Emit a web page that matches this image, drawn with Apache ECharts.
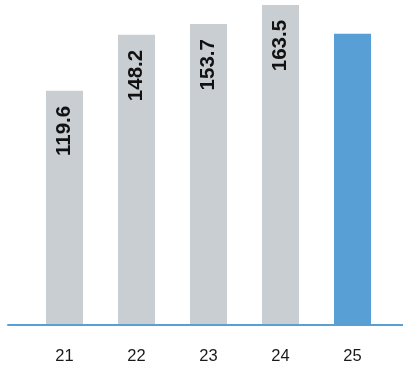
<!DOCTYPE html>
<html>
<head>
<meta charset="utf-8">
<script src="https://cdn.jsdelivr.net/npm/echarts@6/dist/echarts.min.js"></script>
<style>
  html, body { margin: 0; padding: 0; background: #fff; }
  #chart { width: 403px; height: 366px; }
</style>
</head>
<body>
<div id="chart"></div>
<script>
// Yearly totals; the latest year is highlighted and left unlabelled
const categories = ['21', '22', '23', '24', '25'];
const values = [119.6, 148.2, 153.7, 163.5, 148.7];
const labelled = [true, true, true, true, false];

const GREY = '#c9ced2';
const BLUE = '#579fd5';

const barData = values.map((v, i) => ({
  value: v,
  itemStyle: { color: i === values.length - 1 ? BLUE : GREY },
  label: { show: labelled[i] }
}));

const chart = echarts.init(document.getElementById('chart'));
chart.setOption({
  animation: false,
  grid: [
    { left: 28.5, width: 360, top: 0, bottom: 41 },
    { left: 8, right: 0, top: 0, bottom: 41 }
  ],
  xAxis: [
    {
      type: 'category',
      gridIndex: 0,
      data: categories,
      axisLine: { show: false },
      axisTick: { show: false },
      axisLabel: {
        color: '#1a1a1a',
        fontFamily: 'Liberation Sans',
        fontSize: 16.5,
        margin: 23
      }
    },
    {
      type: 'value',
      gridIndex: 1,
      min: 0,
      max: 1,
      z: 5,
      axisLine: { show: true, onZero: false, lineStyle: { color: BLUE, width: 2 } },
      axisTick: { show: false },
      axisLabel: { show: false },
      splitLine: { show: false }
    }
  ],
  yAxis: [
    { type: 'value', gridIndex: 0, min: 0, max: 166, show: false, splitLine: { show: false } },
    { type: 'value', gridIndex: 1, min: 0, max: 1, show: false, splitLine: { show: false } }
  ],
  series: [{
    type: 'bar',
    xAxisIndex: 0,
    yAxisIndex: 0,
    barWidth: 37,
    data: barData,
    label: {
      position: 'insideTop',
      rotate: 90,
      align: 'right',
      verticalAlign: 'middle',
      distance: 15,
      color: '#111',
      fontFamily: 'Liberation Sans',
      fontWeight: 'bold',
      fontSize: 20.5
    }
  }]
});
</script>
</body>
</html>
